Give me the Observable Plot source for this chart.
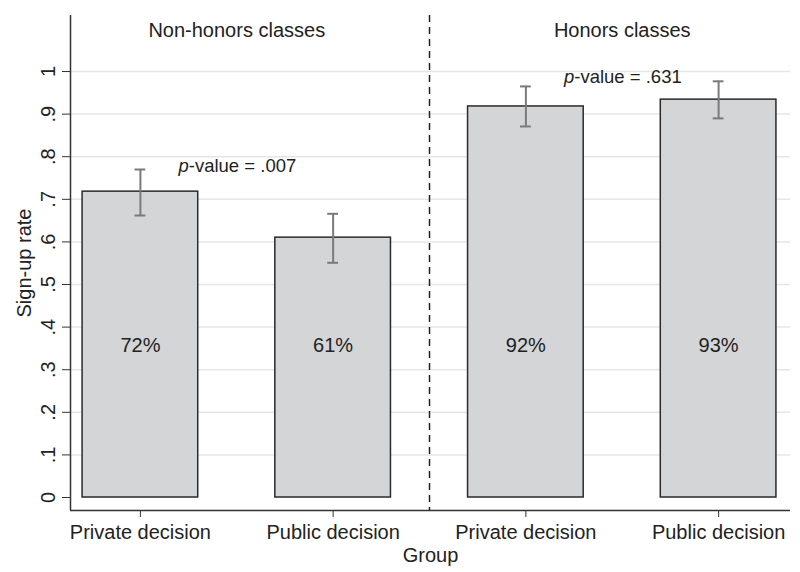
<!DOCTYPE html>
<html><head><meta charset="utf-8">
<script src="https://cdn.jsdelivr.net/npm/d3@7"></script>
<script src="https://cdn.jsdelivr.net/npm/@observablehq/plot@0.6"></script>
<style>body{margin:0;background:#fff;} #chart svg{display:block;}</style>
</head><body><div id="chart"></div>
<script>
// ---- data ----
const panelTitles = ["Non-honors classes", "Honors classes"];
const categories = ["Private decision", "Public decision", "Private decision", "Public decision"];
const rates = [0.718, 0.610, 0.918, 0.934];
const ciLow = [0.662, 0.551, 0.871, 0.890];
const ciHigh = [0.770, 0.666, 0.965, 0.977];
const pctLabels = ["72%", "61%", "92%", "93%"];
const pValues = [".007", ".631"];
const yTicks = [0, 0.1, 0.2, 0.3, 0.4, 0.5, 0.6, 0.7, 0.8, 0.9, 1];
const yTickLabels = ["0", ".1", ".2", ".3", ".4", ".5", ".6", ".7", ".8", ".9", "1"];

// ---- derived tables ----
const rows = categories.map((c, k) => ({i: k + 1, cat: c, rate: rates[k], lo: ciLow[k], hi: ciHigh[k], pct: pctLabels[k]}));
const panels = panelTitles.map((t, k) => ({x: 2 * k + 1.5, title: t, p: pValues[k]}));
const pY = [0.777, 0.986];

const xDom = [0.6373, 4.373];
const yDom = [-0.0305, 1.1315];
const ink = "#222";

const chart = Plot.plot({
  width: 800,
  height: 572,
  marginLeft: 70,
  marginRight: 10,
  marginTop: 15,
  marginBottom: 62,
  style: {fontFamily: "'Liberation Sans', Arial, Helvetica, sans-serif", fontSize: "20px", color: ink, background: "#fff"},
  x: {domain: xDom, axis: null},
  y: {domain: yDom, axis: null},
  marks: [
    Plot.ruleY(yTicks.filter(d => d > 0), {stroke: "#e6e6e6", strokeWidth: 1.5}),
    Plot.ruleX([2.5], {stroke: ink, strokeWidth: 1.5, strokeDasharray: "7,5"}),
    Plot.ruleX([xDom[0]], {stroke: "#333", strokeWidth: 1.5}),
    Plot.ruleY([yDom[0]], {stroke: "#333", strokeWidth: 1.5}),
    Plot.rectY(rows, {x1: d => d.i - 0.3, x2: d => d.i + 0.3, y1: 0, y2: "rate", fill: "#d4d5d7", stroke: "#2a2a2a", strokeWidth: 1.5}),
    Plot.ruleX(rows, {x: "i", y1: "lo", y2: "hi", stroke: "#7a7a7a", strokeWidth: 2}),
    Plot.ruleY(rows, {y: "lo", x1: d => d.i - 0.028, x2: d => d.i + 0.028, stroke: "#7a7a7a", strokeWidth: 2}),
    Plot.ruleY(rows, {y: "hi", x1: d => d.i - 0.028, x2: d => d.i + 0.028, stroke: "#7a7a7a", strokeWidth: 2}),
    Plot.text(rows, {x: "i", y: 0.357, text: "pct", fontSize: 20, fill: ink}),
    Plot.text(panels, {x: "x", y: 1.096, text: "title", fontSize: 20, fill: ink}),
    Plot.text(panels, {x: "x", y: (d, k) => pY[k], text: () => "p", fontStyle: "italic", fontSize: 18.5, textAnchor: "end", dx: -48, fill: ink}),
    Plot.text(panels, {x: "x", y: (d, k) => pY[k], text: d => "-value = " + d.p, fontSize: 18.5, textAnchor: "start", dx: -48, fill: ink}),
    Plot.axisX({ticks: [1, 2, 3, 4], tickFormat: i => categories[i - 1], tickSize: 7, tickPadding: 7, fontSize: 20, stroke: "#333", fill: ink, label: null}),
    Plot.axisY({ticks: yTicks, tickFormat: (d, k) => yTickLabels[k], tickSize: 8, tickPadding: 8, tickRotate: -90, fontSize: 20, stroke: "#333", fill: ink, label: null}),
    Plot.text(["Sign-up rate"], {frameAnchor: "left", textAnchor: "middle", lineAnchor: "middle", rotate: -90, dx: -46, fontSize: 20, fill: ink}),
    Plot.text(["Group"], {frameAnchor: "bottom", textAnchor: "middle", lineAnchor: "middle", dy: 45, fontSize: 20, fill: ink})
  ]
});
document.getElementById("chart").appendChild(chart);
</script>
</body></html>
